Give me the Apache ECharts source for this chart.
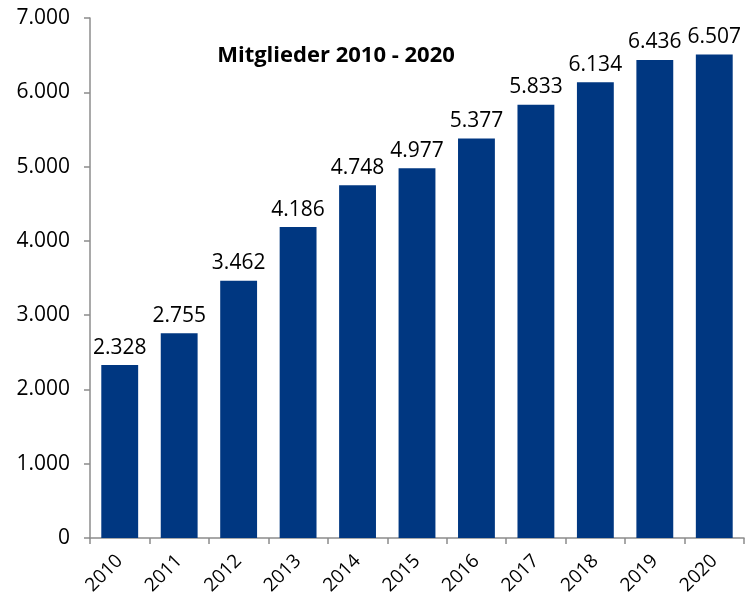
<!DOCTYPE html>
<html><head><meta charset="utf-8">
<script src="https://cdn.jsdelivr.net/npm/echarts@6/dist/echarts.min.js"></script>
<style>html,body{margin:0;padding:0;background:#fff}#c{width:749px;height:603px}</style>
</head><body><div id="c"></div>
<script>
const categories = ['2010','2011','2012','2013','2014','2015','2016','2017','2018','2019','2020'];
const members = [2328, 2755, 3462, 4186, 4748, 4977, 5377, 5833, 6134, 6436, 6507];
const titleText = 'Mitglieder 2010 - 2020';

function de(v){ return String(v).replace(/\B(?=(\d{3})+(?!\d))/g, '.'); }

const chart = echarts.init(document.getElementById('c'));
chart.setOption({
  animation: false,
  textStyle: { fontFamily: 'Open Sans' },
  title: {
    text: titleText, left: 331, top: 40, textAlign: 'center',
    textStyle: { fontFamily: 'Open Sans', fontWeight: 'bold', fontSize: 22, color: '#000' }
  },
  grid: { left: 90, right: 5, top: 18, bottom: 65 },
  xAxis: {
    type: 'category', data: categories,
    axisLine: { lineStyle: { color: '#8c8c8c', width: 1.5 } },
    axisTick: { show: true, alignWithLabel: false, length: 6, lineStyle: { color: '#8c8c8c', width: 1.5 } },
    axisLabel: { rotate: 45, fontSize: 19, color: '#000', margin: 20, fontFamily: 'Open Sans' }
  },
  yAxis: {
    type: 'value', min: 0, max: 7000, interval: 1000,
    axisLine: { show: true, lineStyle: { color: '#8c8c8c', width: 1.5 } },
    axisTick: { show: true, inside: false, length: 6, lineStyle: { color: '#8c8c8c', width: 1.5 } },
    splitLine: { show: false },
    axisLabel: { fontSize: 21, color: '#000', margin: 20, formatter: v => de(v), fontFamily: 'Open Sans' }
  },
  series: [{
    type: 'bar', data: members, barCategoryGap: '38%',
    itemStyle: { color: '#003781' },
    label: { show: true, position: 'top', distance: 7, fontSize: 21, color: '#000', formatter: p => de(p.value), fontFamily: 'Open Sans' }
  }]
});
</script></body></html>
